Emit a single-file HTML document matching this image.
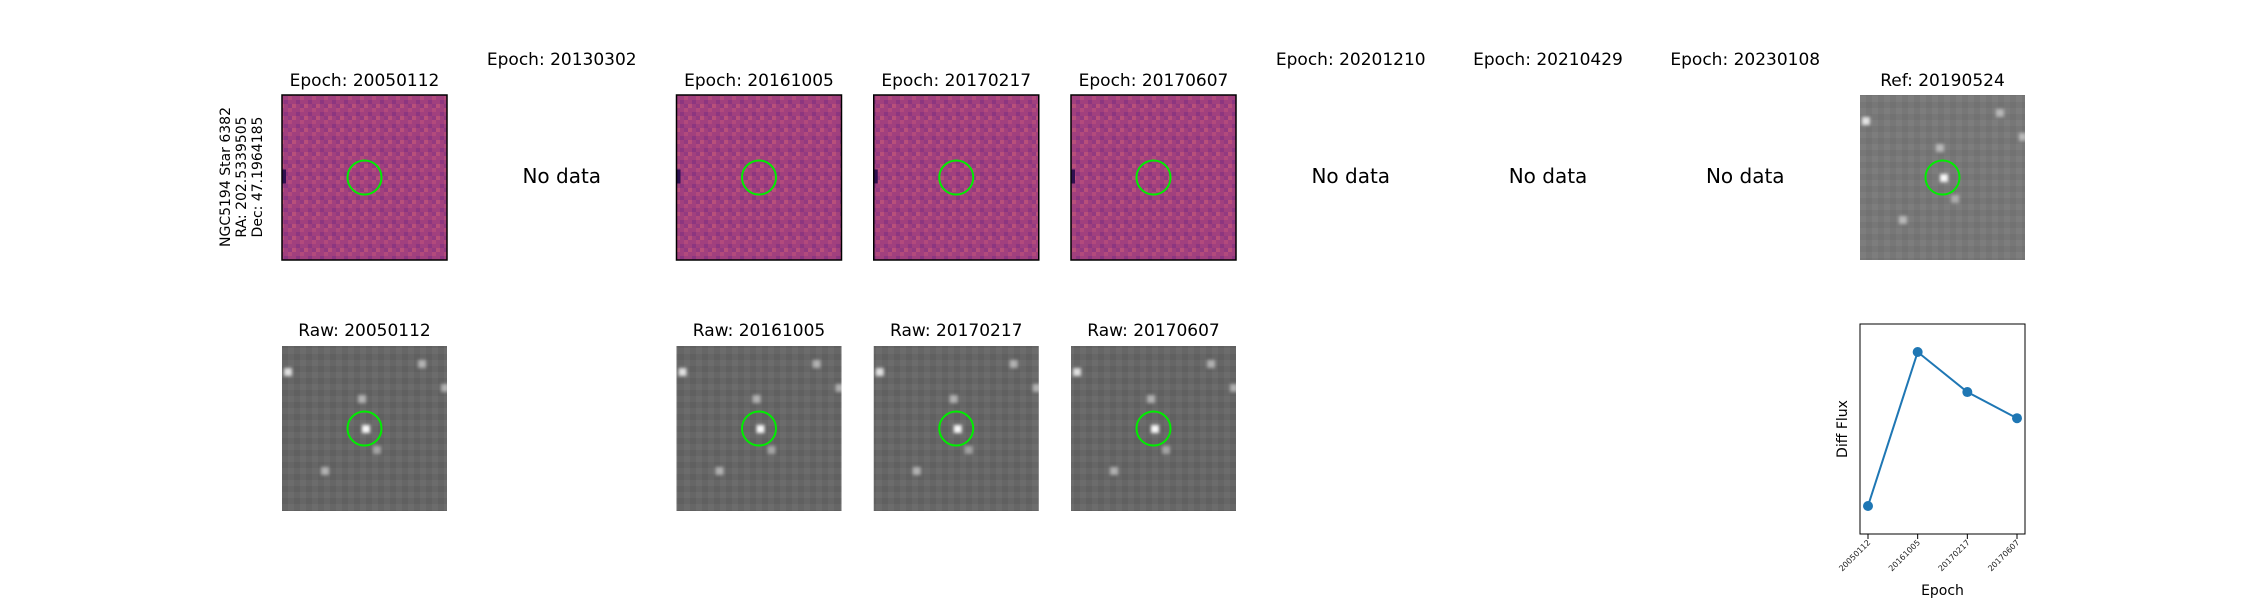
<!DOCTYPE html>
<html><head><meta charset="utf-8"><style>
body{margin:0;background:#fff;}
svg{display:block;font-family:"DejaVu Sans","Liberation Sans",sans-serif;}
</style></head><body>
<svg id="fig" width="2250" height="600" viewBox="0 0 2250 600" xmlns="http://www.w3.org/2000/svg">
<defs>
<filter id="blur" x="-50%" y="-50%" width="200%" height="200%"><feGaussianBlur stdDeviation="1.6"/></filter>
<pattern id="magma" width="12" height="12" patternUnits="userSpaceOnUse">
<rect width="12" height="12" fill="#a1407e"/>
<rect x="0" y="0" width="4" height="4" fill="#b24a7c"/>
<rect x="8" y="4" width="4" height="4" fill="#8c3680"/>
<rect x="4" y="8" width="4" height="4" fill="#b8507a"/>
<rect x="0" y="8" width="4" height="4" fill="#933a80"/>
</pattern>
<pattern id="gray" width="12" height="12" patternUnits="userSpaceOnUse">
<rect width="12" height="12" fill="#666"/>
<rect x="0" y="0" width="6" height="6" fill="#6c6c6c"/>
<rect x="6" y="6" width="6" height="6" fill="#606060"/>
</pattern>
<pattern id="gray2" width="12" height="12" patternUnits="userSpaceOnUse">
<rect width="12" height="12" fill="#777"/>
<rect x="0" y="0" width="6" height="6" fill="#7d7d7d"/>
<rect x="6" y="6" width="6" height="6" fill="#727272"/>
</pattern>
</defs>
<text transform="translate(244,177) rotate(-90)" text-anchor="middle" font-size="14"><tspan x="0" dy="-14">NGC5194 Star 6382</tspan><tspan x="0" dy="16">RA: 202.5339505</tspan><tspan x="0" dy="16">Dec: 47.1964185</tspan></text>
<g id="panels"></g>
<g id="lc"></g>
</svg>
<script>
const epochs = ["20050112","20130302","20161005","20170217","20170607","20201210","20210429","20230108"];
const hasData = [true,false,true,true,true,false,false,false];
const lcEpochs = ["20050112","20161005","20170217","20170607"];
const lcFlux = [0.0, 1.0, 0.74, 0.57];
const stars = [[6,26,1],[84,83,1.2],[80,53,0.6],[140,18,0.6],[163,42,0.6],[43,125,0.6],[95,104,0.5],[180,0,0]];

const NS="http://www.w3.org/2000/svg";
function mk(tag, attrs, parent){const e=document.createElementNS(NS,tag);for(const k in attrs)e.setAttribute(k,attrs[k]);parent.appendChild(e);return e;}
const P=document.getElementById('panels');
const colX=i=>282+i*197.25, S=165, r1=95, r2=346;
function gray(x,y,fill,name){
  const g=mk('g',{},P);
  
  
  mk('rect',{x:x,y:y,width:S,height:S,fill:fill},g);
  stars.forEach(s=>{if(s[2]>0){mk('rect',{x:x+s[0]-4,y:y+s[1]-4,width:8,height:8,fill:'#fff',opacity:Math.min(1,s[2]*0.8),filter:'url(#blur)'},g);}});
  mk('circle',{cx:x+S/2,cy:y+S/2,r:17,fill:'none',stroke:'#00ee00','stroke-width':2},g);
}
function title(x,y,t,name){const e=mk('text',{x:x,y:y,'text-anchor':'middle','font-size':17},P);e.textContent=t;
  
  }
epochs.forEach((ep,i)=>{
  const x=colX(i);
  if(hasData[i]){
    title(x+S/2,r1-9,'Epoch: '+ep,'diff-title');
    const g=mk('g',{},P);
    
    
    mk('rect',{x:x,y:r1,width:S,height:S,fill:'url(#magma)'},g);
    mk('rect',{x:x,y:r1+S/2-8,width:4,height:14,fill:'#301050'},g);
    mk('circle',{cx:x+S/2,cy:r1+S/2,r:17,fill:'none',stroke:'#00ee00','stroke-width':2},g);
    mk('rect',{x:x,y:r1,width:S,height:S,fill:'none',stroke:'#000','stroke-width':1.5},g);
    title(x+S/2,r2-10,'Raw: '+ep,'raw-title');
    gray(x,r2,'url(#gray)','raw-image');
  } else {
    title(x+S/2,65,'Epoch: '+ep,'epoch-title');
    const e=mk('text',{x:x+S/2,y:183,'text-anchor':'middle','font-size':20},P);e.textContent='No data';
    
    
  }
});
title(colX(8)+S/2,r1-9,'Ref: 20190524','ref-title');
gray(colX(8),r1,'url(#gray2)','ref-image');

// light curve
const L=document.getElementById('lc');
const ax={x0:1860,x1:2025,y0:324,y1:534};
const n=lcEpochs.length;
const xs=i=>ax.x0+8+i*(ax.x1-ax.x0-16)/(n-1);
const mn=Math.min(...lcFlux), mxv=Math.max(...lcFlux), rg=(mxv-mn)||1;
const dlo=mn-0.182*rg, dhi=mxv+0.182*rg;
const ys=v=>ax.y1-(v-dlo)/(dhi-dlo)*(ax.y1-ax.y0);
mk('rect',{x:ax.x0,y:ax.y0,width:ax.x1-ax.x0,height:ax.y1-ax.y0,fill:'none',stroke:'#000','stroke-width':1},L);
const line=mk('polyline',{points:lcFlux.map((v,i)=>xs(i)+','+ys(v)).join(' '),fill:'none',stroke:'#1f77b4','stroke-width':2},L);


lcFlux.forEach((v,i)=>{
  const c=mk('circle',{cx:xs(i),cy:ys(v),r:5,fill:'#1f77b4'},L);
  
  
  mk('line',{x1:xs(i),y1:ax.y1,x2:xs(i),y2:ax.y1+5,stroke:'#000'},L);
  const t=mk('text',{transform:`translate(${xs(i)+3},${ax.y1+9}) rotate(-45)`,'text-anchor':'end','font-size':8,fill:'#222'},L);
  t.textContent=lcEpochs[i];
  
  
});
const xl=mk('text',{x:(ax.x0+ax.x1)/2,y:595,'text-anchor':'middle','font-size':14},L);xl.textContent='Epoch';


const yl=mk('text',{transform:`translate(1847,${(ax.y0+ax.y1)/2}) rotate(-90)`,'text-anchor':'middle','font-size':14},L);yl.textContent='Diff Flux';


</script>
</body></html>
